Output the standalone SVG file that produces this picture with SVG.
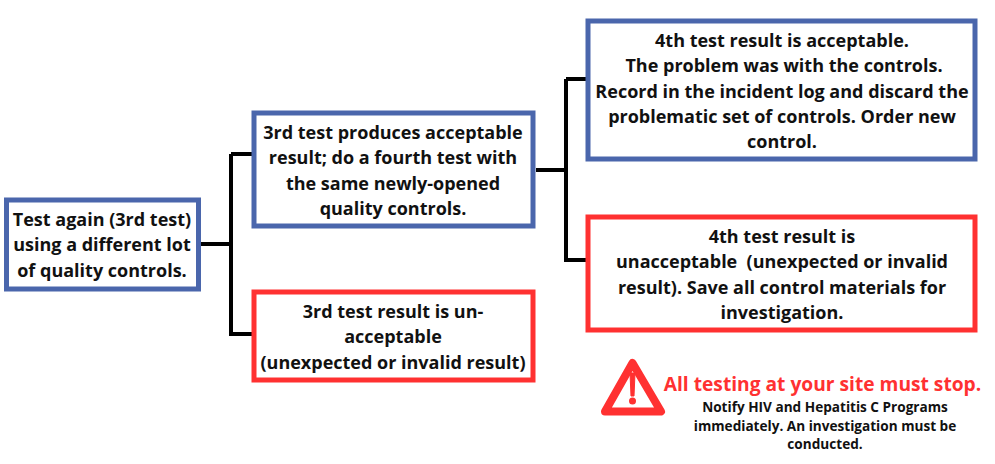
<svg xmlns="http://www.w3.org/2000/svg" width="995" height="464" viewBox="0 0 995 464">
<style>
text{font-family:"Open Sans","Liberation Sans",sans-serif;font-weight:700;font-size:18px;fill:#111;text-anchor:middle;white-space:pre}
.b{fill:#fff;stroke:#4a66ac;stroke-width:5}
.r{fill:#fff;stroke:#ff3131;stroke-width:5}
.c{fill:none;stroke:#000;stroke-width:4}
.h{font-size:19.2px;fill:#ff3131}
.s{font-size:13.6px}
</style>
<rect width="995" height="464" fill="#fff"/>
<g id="connectors">
<path class="c" d="M201 244H231M231 154H252M231 154V334H252M536 170H566M566 79H587M566 79V260H587"/>
</g>
<g id="n1"><rect class="b" x="6.500" y="200" width="192" height="89"/><text x="102" y="226">Test again (3rd test)</text><text x="102" y="251">using a different lot</text><text x="102" y="277">of quality controls.</text></g>
<g id="n2"><rect class="b" x="254" y="113" width="279" height="113"/><text x="393" y="139">3rd test produces acceptable</text><text x="393" y="164">result; do a fourth test with</text><text x="393" y="190">the same newly-opened</text><text x="393" y="215">quality controls.</text></g>
<g id="n3"><rect class="r" x="254" y="292" width="279" height="88"/><text x="393" y="318">3rd test result is un-</text><text x="393" y="343">acceptable</text><text x="393" y="369">(unexpected or invalid result)</text></g>
<g id="n4"><rect class="b" x="588" y="21" width="387" height="138"/><text x="782" y="47">4th test result is acceptable.</text><text x="784" y="72">The problem was with the controls.</text><text x="782" y="98">Record in the incident log and discard the</text><text x="782" y="123">problematic set of controls. Order new</text><text x="782" y="148">control.</text></g>
<g id="n5"><rect class="r" x="588" y="217" width="387" height="113"/><text x="782" y="243">4th test result is</text><text x="782" y="268">unacceptable  (unexpected or invalid</text><text x="782" y="294">result). Save all control materials for</text><text x="782" y="319">investigation.</text></g>
<g id="warning">
<path d="M632.500 363L661 411.500H605Z" fill="#fff" stroke="#ff3131" stroke-width="8" stroke-linejoin="round"/>
<path d="M630 373H635L634 396H631Z" fill="#ff3131" stroke="#ff3131" stroke-linejoin="round"/>
<circle cx="632.500" cy="401" r="3.500" fill="#ff3131"/>
<text x="822.500" y="391" class="h">All testing at your site must stop.</text>
<text x="825" y="412" class="s">Notify HIV and Hepatitis C Programs</text>
<text x="825" y="431" class="s">immediately. An investigation must be</text>
<text x="825" y="449" class="s">conducted.</text>
</g>
</svg>
